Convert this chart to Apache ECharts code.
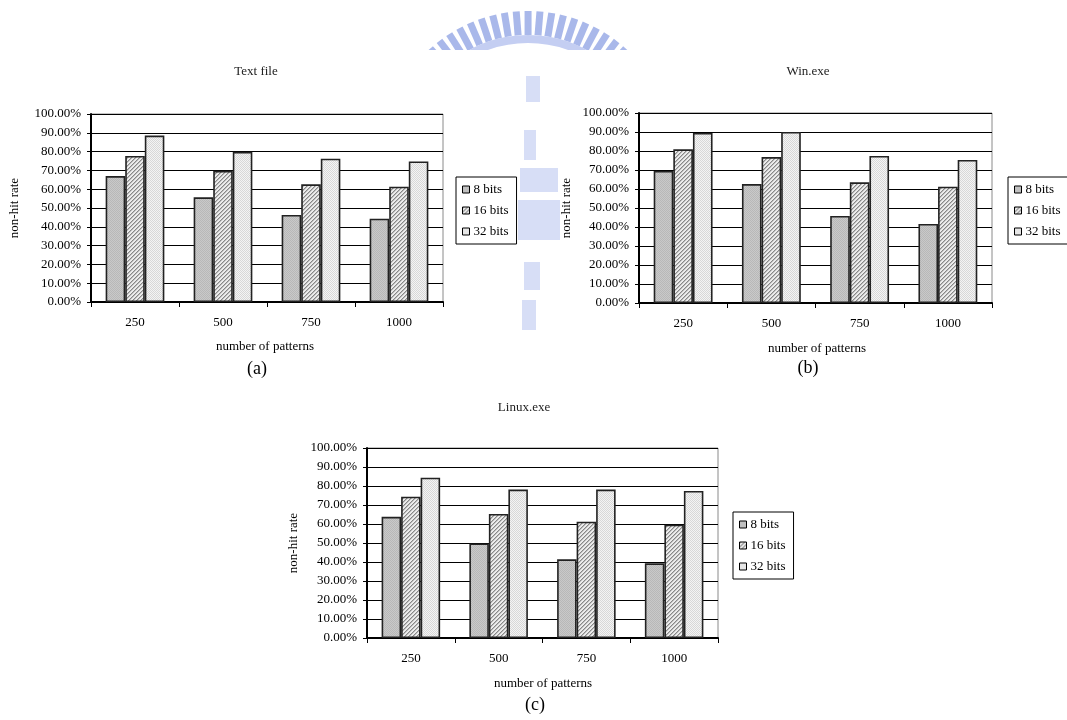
<!DOCTYPE html>
<html><head><meta charset="utf-8">
<script src="https://cdn.jsdelivr.net/npm/echarts@6/dist/echarts.min.js"></script>
<style>html,body{margin:0;padding:0;background:#fff}#c{width:1067px;height:720px}</style>
</head><body><div id="c"></div>
<script>
const categories = ['250', '500', '750', '1000'];
const seriesNames = ['8 bits', '16 bits', '32 bits'];
const yTicks = [0, 10, 20, 30, 40, 50, 60, 70, 80, 90, 100];

const textFile8 = [67.0, 55.7, 46.3, 44.3];
const textFile16 = [77.7, 69.8, 62.6, 61.3];
const textFile32 = [88.5, 79.9, 76.2, 74.8];

const win8 = [69.5, 62.6, 45.8, 41.6];
const win16 = [80.9, 76.8, 63.5, 61.2];
const win32 = [89.5, 90.0, 77.4, 75.3];

const linux8 = [63.8, 49.8, 41.4, 39.3];
const linux16 = [74.4, 65.3, 61.2, 59.6];
const linux32 = [84.4, 78.1, 78.1, 77.4];

const panels = [
  {title: 'Text file', label: '(a)', data: [textFile8, textFile16, textFile32],
   grid: {left: 91, top: 114, width: 352, height: 188}, legend: {left: 456, top: 177},
   titleXY: [256, 72], yNameXY: [15, 208], xNameXY: [265, 347], labelXY: [257, 369]},
  {title: 'Win.exe', label: '(b)', data: [win8, win16, win32],
   grid: {left: 639, top: 113, width: 353, height: 190}, legend: {left: 1008, top: 177},
   titleXY: [808, 72], yNameXY: [567, 208], xNameXY: [817, 349], labelXY: [808, 368]},
  {title: 'Linux.exe', label: '(c)', data: [linux8, linux16, linux32],
   grid: {left: 367, top: 448, width: 351, height: 190}, legend: {left: 733, top: 512},
   titleXY: [524, 408], yNameXY: [294, 543], xNameXY: [543, 684], labelXY: [535, 705]}
];

function pattern(kind) {
  const c = document.createElement('canvas');
  c.width = 4; c.height = 4;
  const ctx = c.getContext('2d');
  for (let x = 0; x < 4; x++) for (let y = 0; y < 4; y++) {
    let col;
    if (kind === 0) col = ((x + y) % 2 === 0) ? '#b8b8b8' : '#c9c9c9';
    else if (kind === 1) { const k = (x + y) % 4; col = k === 0 ? '#888888' : (k === 1 ? '#bdbdbd' : '#ececec'); }
    else col = ((x + y) % 2 === 0) ? '#d8d8d8' : '#f4f4f4';
    ctx.fillStyle = col; ctx.fillRect(x, y, 1, 1);
  }
  return {image: c, repeat: 'repeat'};
}
const fills = [pattern(0), pattern(1), pattern(2)];

const FONT = "'Liberation Serif', 'DejaVu Serif', serif";

const grids = [], xAxes = [], yAxes = [], series = [], legends = [], graphics = [];

// faint watermark logo (background artefact of the source page)
const wm = '#a9b8ea';
const cx = 528, cy = 157;
for (let a = -42; a <= 42.1; a += 4.67) {
  const r = a * Math.PI / 180;
  graphics.push({type: 'rect', x: cx, y: cy, rotation: -r,
    shape: {x: -3.5, y: -146, width: 7, height: 24}, style: {fill: wm}, z: 0, silent: true});
}
graphics.push({type: 'arc', shape: {cx: cx, cy: cy, r: 118, startAngle: -Math.PI * 0.72, endAngle: -Math.PI * 0.28},
  style: {stroke: '#c4cef2', lineWidth: 8, fill: null}, z: 0, silent: true});
graphics.push({type: 'rect', shape: {x: 380, y: 50, width: 300, height: 25}, style: {fill: '#fff'}, z: 1, silent: true});
[[526, 76, 14, 26], [524, 130, 12, 30], [520, 168, 38, 24], [518, 200, 42, 40], [524, 262, 16, 28], [522, 300, 14, 30]].forEach(b => {
  graphics.push({type: 'rect', shape: {x: b[0], y: b[1], width: b[2], height: b[3]}, style: {fill: '#c9d3f3', opacity: 0.75}, z: 2, silent: true});
});

panels.forEach((p, i) => {
  grids.push(Object.assign({show: true, borderColor: '#8a8a8a', borderWidth: 1, backgroundColor: 'transparent', containLabel: false}, p.grid));
  xAxes.push({type: 'category', gridIndex: i, data: categories, boundaryGap: true,
    axisLine: {show: true, lineStyle: {color: '#000', width: 2}},
    axisTick: {show: true, alignWithLabel: false, length: 5, inside: false, lineStyle: {color: '#000', width: 1}},
    axisLabel: {color: '#000', fontFamily: FONT, fontSize: 13, margin: 14},
    splitLine: {show: false}});
  yAxes.push({type: 'value', gridIndex: i, min: 0, max: 100, interval: 10,
    axisLine: {show: true, lineStyle: {color: '#000', width: 2}},
    axisTick: {show: true, length: 4, lineStyle: {color: '#000'}},
    axisLabel: {color: '#000', fontFamily: FONT, fontSize: 13, margin: 10,
      formatter: v => (yTicks.indexOf(v) >= 0 ? v.toFixed(2) + '%' : '')},
    splitLine: {show: true, lineStyle: {color: '#000', width: 1}}});
  seriesNames.forEach((n, k) => {
    series.push({type: 'bar', name: n, xAxisIndex: i, yAxisIndex: i, data: p.data[k],
      barGap: '0%', barCategoryGap: '33.3%',
      itemStyle: {color: fills[k], borderColor: '#222', borderWidth: 1.6},
      emphasis: {disabled: true}, animation: false, z: 3});
  });
  legends.push({data: seriesNames, orient: 'vertical', left: p.legend.left, top: p.legend.top,
    itemWidth: 7, itemHeight: 7, itemGap: 8, padding: [6, 8, 6, 6],
    borderColor: '#000', borderWidth: 1, backgroundColor: '#fff', icon: 'rect',
    itemStyle: {borderColor: '#000', borderWidth: 1},
    textStyle: {fontFamily: FONT, fontSize: 13, color: '#000', padding: [0, 0, 0, -1]},
    selectedMode: false});
  graphics.push({type: 'text', x: p.titleXY[0], y: p.titleXY[1], style: {text: p.title, font: '13px ' + FONT, fill: '#222', textAlign: 'center', textVerticalAlign: 'middle'}});
  graphics.push({type: 'text', x: p.xNameXY[0], y: p.xNameXY[1], style: {text: 'number of patterns', font: '13px ' + FONT, fill: '#000', textAlign: 'center', textVerticalAlign: 'middle'}});
  graphics.push({type: 'text', x: p.labelXY[0], y: p.labelXY[1], style: {text: p.label, font: '18px ' + FONT, fill: '#000', textAlign: 'center', textVerticalAlign: 'middle'}});
  graphics.push({type: 'text', x: p.yNameXY[0], y: p.yNameXY[1], rotation: Math.PI / 2, style: {text: 'non-hit rate', font: '13px ' + FONT, fill: '#000', textAlign: 'center', textVerticalAlign: 'middle'}});
});

const chart = echarts.init(document.getElementById('c'), null, {renderer: 'canvas'});
chart.setOption({
  backgroundColor: '#fff', animation: false,
  grid: grids, xAxis: xAxes, yAxis: yAxes, series: series, legend: legends, graphic: graphics
});
</script></body></html>
